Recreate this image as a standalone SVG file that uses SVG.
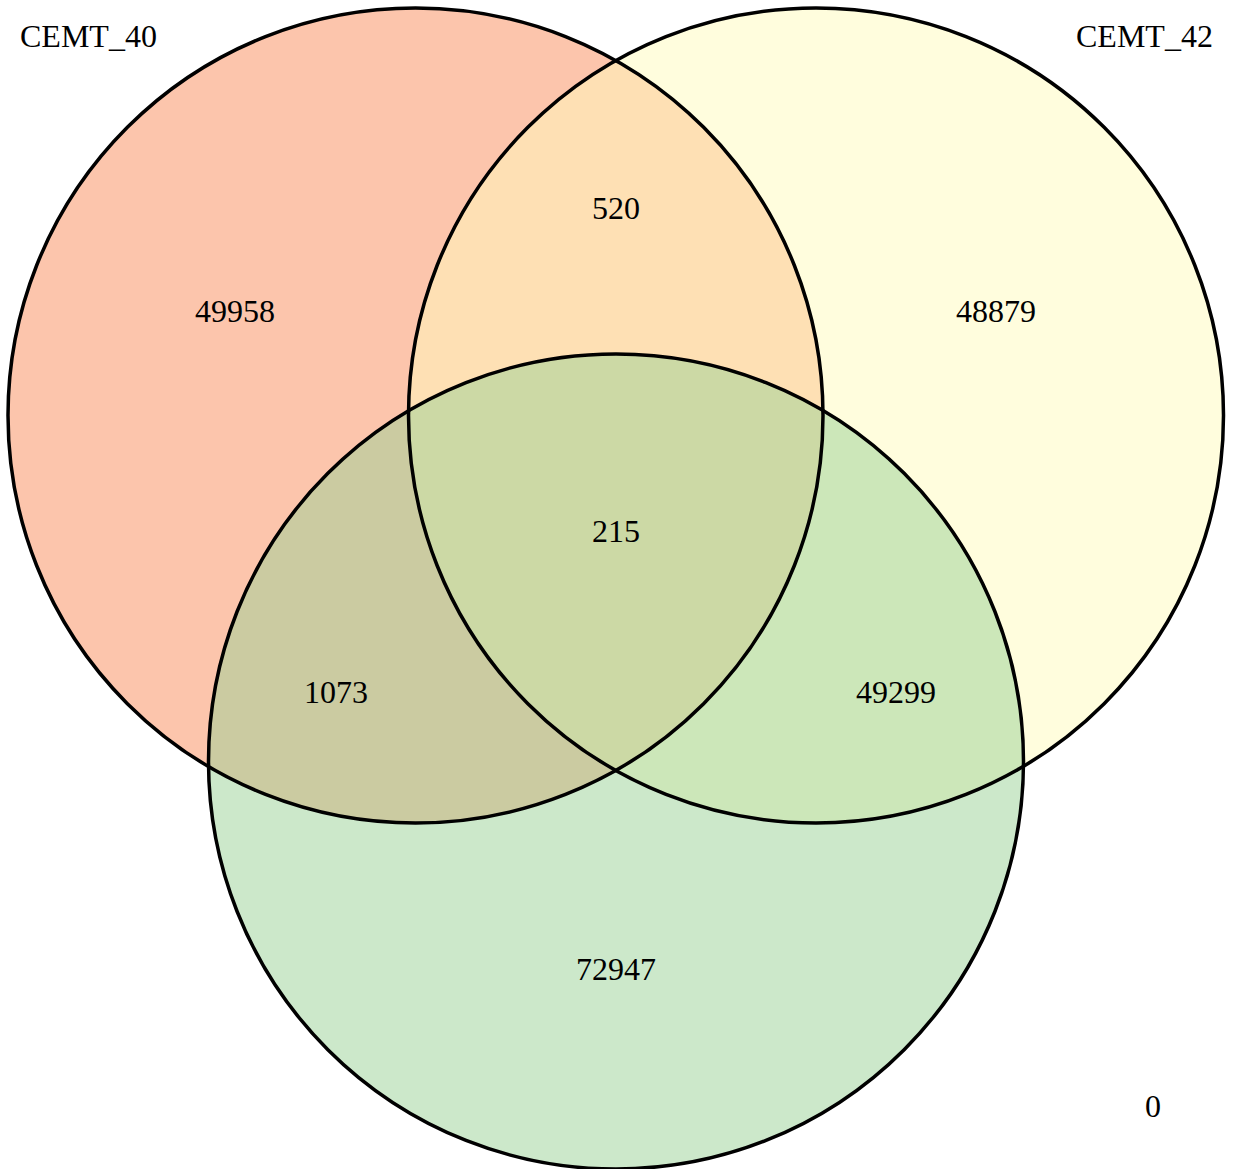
<svg xmlns="http://www.w3.org/2000/svg" width="1234" height="1169" viewBox="0 0 1234 1169">
<style>
.fill{stroke:none;fill-opacity:0.5}
.outline{fill:none;stroke:#000;stroke-width:3.5}
text{font-family:"Liberation Serif","Times New Roman",serif;font-size:32px;fill:#000}
.c{text-anchor:middle}
</style>
<defs>
<circle id="c40" cx="415.5" cy="415.5" r="407.5"/>
<circle id="c42" cx="816" cy="415.5" r="407.5"/>
<circle id="cb" cx="616" cy="761.5" r="407.5"/>
</defs>
<rect width="1234" height="1169" fill="#fff"/>
<g id="connectors"></g>
<g id="set-CEMT_40"><use href="#c40" class="fill" fill="#F98B59"/></g>
<g id="set-CEMT_42"><use href="#c42" class="fill" fill="#FFFBBB"/></g>
<g id="set-bottom"><use href="#cb" class="fill" fill="#99D195"/></g>
<g id="outlines">
<use href="#c40" class="outline"/>
<use href="#c42" class="outline"/>
<use href="#cb" class="outline"/>
</g>
<g id="labels">
<text x="20" y="47">CEMT_40</text>
<text x="1076" y="47">CEMT_42</text>
<text class="c" x="235" y="322">49958</text>
<text class="c" x="616" y="219">520</text>
<text class="c" x="996" y="322">48879</text>
<text class="c" x="616" y="542">215</text>
<text class="c" x="336" y="703">1073</text>
<text class="c" x="896" y="703">49299</text>
<text class="c" x="616" y="980">72947</text>
<text class="c" x="1153" y="1117">0</text>
</g>
</svg>
